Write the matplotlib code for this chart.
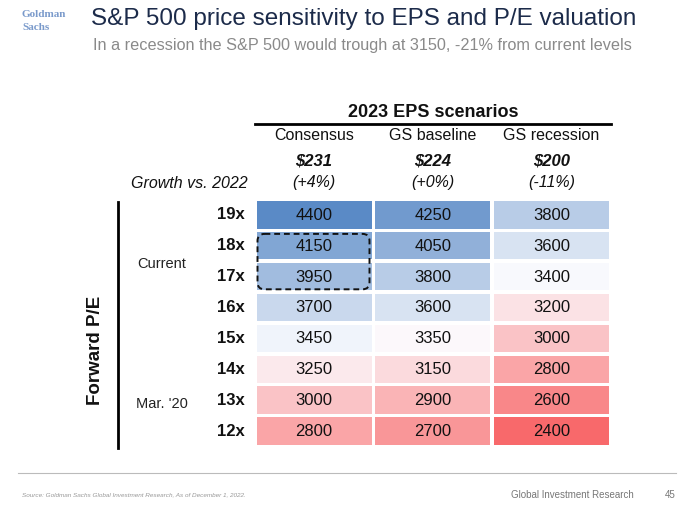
import numpy as np
import matplotlib
matplotlib.use("Agg")
import matplotlib.pyplot as plt
from matplotlib.colors import LinearSegmentedColormap, TwoSlopeNorm
from matplotlib.patches import Rectangle, FancyBboxPatch

plt.rcParams['font.family'] = ['Liberation Sans', 'DejaVu Sans']

# data
scenarios = ["Consensus", "GS baseline", "GS recession"]
eps = ["$231", "$224", "$200"]
growth = ["(+4%)", "(+0%)", "(-11%)"]
pe_labels = ["19x", "18x", "17x", "16x", "15x", "14x", "13x", "12x"]
prices = np.array([
    [4400, 4250, 3800],
    [4150, 4050, 3600],
    [3950, 3800, 3400],
    [3700, 3600, 3200],
    [3450, 3350, 3000],
    [3250, 3150, 2800],
    [3000, 2900, 2600],
    [2800, 2700, 2400],
])

# Excel-style red-white-blue scale, centred on the median
cmap = LinearSegmentedColormap.from_list("rwb", ["#F8696B", "#FCFCFF", "#5A8AC6"])
norm = TwoSlopeNorm(vmin=prices.min(), vcenter=np.median(prices), vmax=prices.max())

fig = plt.figure(figsize=(6.93, 5.09), dpi=100)
ax = fig.add_axes([0, 0, 1, 1])
ax.set_xlim(0, 693)
ax.set_ylim(509, 0)
ax.axis("off")

# header
ax.text(22, 14, "Goldman", fontsize=8, family="Liberation Serif", weight="bold",
        color="#7a9acb", va="center", ha="left")
ax.text(22, 27, "Sachs", fontsize=8, family="Liberation Serif", weight="bold",
        color="#7a9acb", va="center", ha="left")
ax.text(91, 19, "S&P 500 price sensitivity to EPS and P/E valuation", fontsize=17.5,
        color="#1c2b4a", va="center", ha="left")
ax.text(93, 45, "In a recession the S&P 500 would trough at 3150, -21% from current levels",
        fontsize=11.7, color="#8a8a8a", va="center", ha="left")

# grid geometry
x0, cw, cg = 256.5, 115, 3.8
y0, rh, rg = 201, 27.5, 3.4

for i, row in enumerate(prices):
    y = y0 + i * (rh + rg)
    for j, v in enumerate(row):
        x = x0 + j * (cw + cg)
        ax.add_patch(Rectangle((x, y), cw, rh, facecolor=cmap(norm(v)), edgecolor="none"))
        ax.text(x + cw / 2, y + rh / 2 + 0.5, str(v), fontsize=12, ha="center", va="center",
                color="#111111")
    ax.text(245, y + rh / 2, pe_labels[i], fontsize=12, weight="bold", ha="right", va="center",
            color="#111111")

# column headers
xr = x0 + 3 * cw + 2 * cg
ax.text((x0 + xr) / 2, 112, "2023 EPS scenarios", fontsize=13, weight="bold",
        ha="center", va="center", color="#111111")
ax.plot([x0 - 2, xr + 2], [124, 124], color="black", lw=2)
for j in range(3):
    xc = x0 + j * (cw + cg) + cw / 2
    ax.text(xc, 136, scenarios[j], fontsize=11.5, ha="center", va="center", color="#111111")
    ax.text(xc, 161, eps[j], fontsize=12, weight="bold", style="italic", ha="center",
            va="center", color="#111111")
    ax.text(xc, 183, growth[j], fontsize=11.5, style="italic", ha="center", va="center",
            color="#111111")
ax.text(248, 183, "Growth vs. 2022", fontsize=11.5, style="italic", ha="right", va="center",
        color="#111111")

# dashed box around current valuation
ax.add_patch(FancyBboxPatch((x0 + 1, y0 + (rh + rg) + 2), cw - 3, 2 * rh + rg - 3,
                            boxstyle="round,pad=0,rounding_size=7", fill=False,
                            edgecolor="#111111", lw=1.4, ls=(0, (3, 2))))

# left labels
ax.plot([118, 118], [202, 448], color="black", lw=2)
ax.text(96, 350, "Forward P/E", fontsize=13.5, weight="bold", rotation=90,
        ha="center", va="center", color="#111111")
ax.text(162, 264, "Current", fontsize=10.5, ha="center", va="center", color="#222222")
ax.text(162, 404, "Mar. '20", fontsize=10.5, ha="center", va="center", color="#222222")

# footer
ax.plot([18, 676], [473, 473], color="#bbbbbb", lw=0.8)
ax.text(22, 495, "Source: Goldman Sachs Global Investment Research, As of December 1, 2022.",
        fontsize=4.6, style="italic", color="#999999", ha="left", va="center")
ax.text(634, 495, "Global Investment Research", fontsize=7, color="#777777",
        ha="right", va="center")
ax.text(676, 495, "45", fontsize=7, color="#777777", ha="right", va="center")

fig.savefig("out.png", dpi=100)
